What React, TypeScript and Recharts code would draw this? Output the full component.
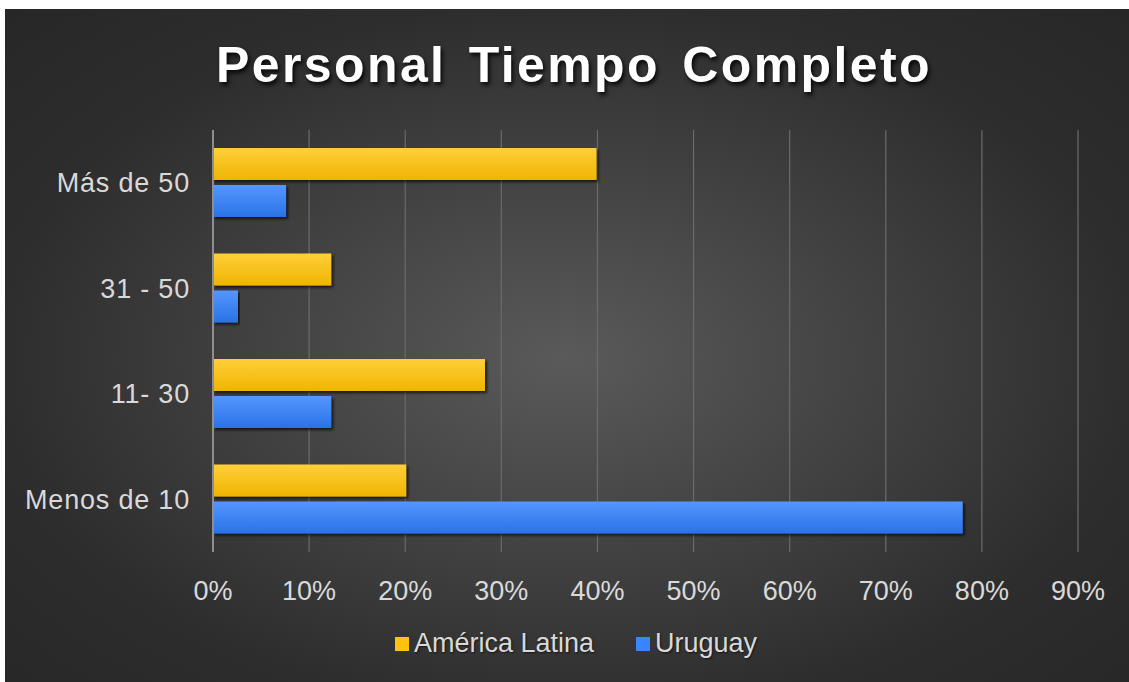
import React from 'react';
import { BarChart, Bar, XAxis, YAxis, CartesianGrid, Legend } from 'recharts';

// Personal Tiempo Completo — horizontal grouped bars

const categories = ['Más de 50', '31 - 50', '11- 30', 'Menos de 10'];
const americaLatina = [0.399, 0.123, 0.283, 0.201];
const uruguay = [0.076, 0.026, 0.123, 0.78];
const xTicks = [0, 0.1, 0.2, 0.3, 0.4, 0.5, 0.6, 0.7, 0.8, 0.9];

const data = categories.map((name, i) => ({
  name,
  'América Latina': americaLatina[i],
  Uruguay: uruguay[i],
}));

const FONT = '"Liberation Sans", Arial, sans-serif';
const TEXT = '#d9d9d9';

function BarShape(props: any) {
  const { x, y, width, height, fill } = props;
  if (!width || width <= 0) return null;
  return (
    <rect x={x} y={y} width={width} height={height} fill={fill} filter="url(#barShadow)" />
  );
}

function LegendContent() {
  const items = [
    { label: 'América Latina', color: '#ffc20e' },
    { label: 'Uruguay', color: '#3a85ff' },
  ];
  return (
    <div style={{ display: 'flex', justifyContent: 'center', alignItems: 'center', gap: 42 }}>
      {items.map((it) => (
        <div key={it.label} style={{ display: 'flex', alignItems: 'center' }}>
          <span style={{ display: 'inline-block', width: 14, height: 14, background: it.color, marginRight: 5 }} />
          <span style={{ color: TEXT, fontSize: 27, fontFamily: FONT, textShadow: '1px 1px 2px rgba(0,0,0,0.6)' }}>{it.label}</span>
        </div>
      ))}
    </div>
  );
}

export default function App() {
  return (
    <div style={{ position: 'absolute', left: 0, top: 0, width: 1129, height: 682, background: '#fff', fontFamily: FONT }}>
      <div
        style={{
          position: 'absolute',
          left: 5,
          top: 9,
          width: 1124,
          height: 673,
          background: 'radial-gradient(ellipse farthest-corner at 50% 52%, #5a5a5a 0%, #2d2d2d 72%, #272727 100%)',
        }}
      >
        <div
          style={{
            position: 'absolute',
            left: 7,
            top: 27,
            width: 1124,
            textAlign: 'center',
            color: '#ffffff',
            fontSize: 50,
            fontWeight: 'bold',
            letterSpacing: 2.4,
            wordSpacing: 6,
            textShadow: '2px 3px 4px rgba(0,0,0,0.85)',
          }}
        >
          Personal Tiempo Completo
        </div>
        <BarChart
          width={1124}
          height={673}
          data={data}
          layout="vertical"
          margin={{ top: 121, right: 51, bottom: 0, left: 0 }}
          barSize={32}
          barGap={5}
          style={{ position: 'absolute', left: 0, top: 0 }}
        >
          <defs>
            <linearGradient id="gradYellow" x1="0" y1="0" x2="0" y2="1">
              <stop offset="0%" stopColor="#ffcf3a" />
              <stop offset="100%" stopColor="#efb500" />
            </linearGradient>
            <linearGradient id="gradBlue" x1="0" y1="0" x2="0" y2="1">
              <stop offset="0%" stopColor="#5596ff" />
              <stop offset="100%" stopColor="#2a72e6" />
            </linearGradient>
            <filter id="barShadow" x="-5%" y="-20%" width="110%" height="150%">
              <feDropShadow dx="2" dy="2" stdDeviation="1.5" floodColor="#000" floodOpacity="0.7" />
            </filter>
          </defs>
          <CartesianGrid horizontal={false} stroke="#6b6b6b" strokeWidth={1.2} />
          <XAxis
            type="number"
            domain={[0, 0.9]}
            ticks={xTicks}
            tickFormatter={(v: number) => `${Math.round(v * 100)}%`}
            axisLine={false}
            tickLine={false}
            tickMargin={23}
            height={130}
            tick={{ fill: TEXT, fontSize: 27 }}
          />
          <YAxis
            type="category"
            dataKey="name"
            width={208}
            axisLine={{ stroke: '#8e8e8e', strokeWidth: 2 }}
            tickLine={false}
            tickMargin={17}
            tick={{ fill: TEXT, fontSize: 27, letterSpacing: 0.8 }}
          />
          <Legend
            verticalAlign="middle"
            align="center"
            content={<LegendContent />}
            wrapperStyle={{ top: 619, left: 9, width: 1124 }}
          />
          <Bar dataKey="América Latina" fill="url(#gradYellow)" shape={<BarShape />} isAnimationActive={false} />
          <Bar dataKey="Uruguay" fill="url(#gradBlue)" shape={<BarShape />} isAnimationActive={false} />
        </BarChart>
      </div>
    </div>
  );
}
